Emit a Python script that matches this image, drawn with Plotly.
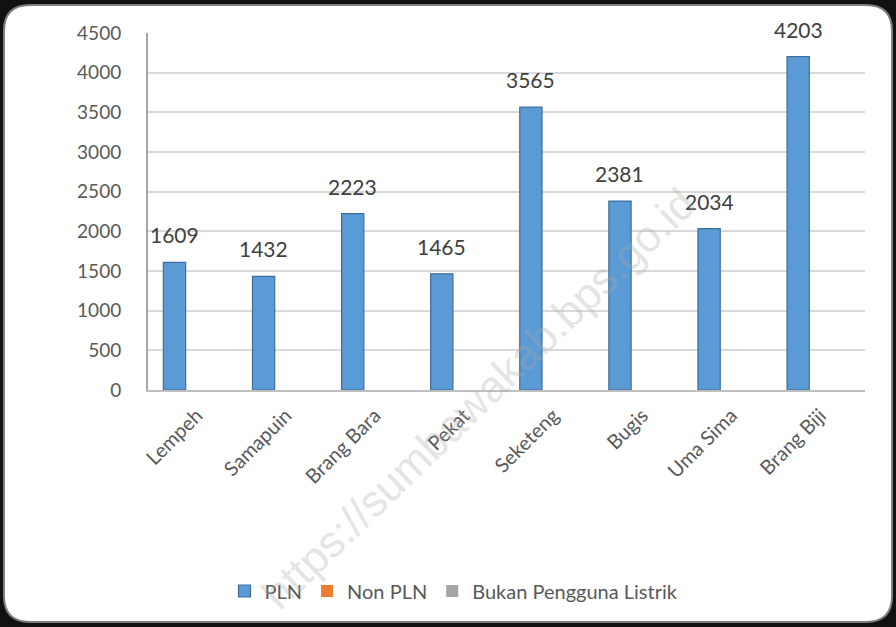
import plotly.graph_objects as go

categories = ["Lempeh", "Samapuin", "Brang Bara", "Pekat", "Seketeng", "Bugis", "Uma Sima", "Brang Biji"]
pln = [1609, 1432, 2223, 1465, 3565, 2381, 2034, 4203]
non_pln = [0, 0, 0, 0, 0, 0, 0, 0]
bukan = [0, 0, 0, 0, 0, 0, 0, 0]
y_ticks = [0, 500, 1000, 1500, 2000, 2500, 3000, 3500, 4000, 4500]

W, H = 896, 627
ML, MR, MT, MB = 148, 31, 33, 237
PW, PH = W - ML - MR, H - MT - MB

def px(x):
    return (x - ML) / PW

def py(y):
    return (H - MB - y) / PH

FONT = "Lato, 'Open Sans', sans-serif"
TXT = "#595959"

fig = go.Figure()
fig.add_trace(go.Bar(name="PLN", x=categories, y=pln,
                     marker=dict(color="#5B9BD5", line=dict(color="#3E6E9C", width=1.2))))
fig.add_trace(go.Bar(name="Non PLN", x=categories, y=non_pln,
                     marker=dict(color="#ED7D31", line=dict(width=0))))
fig.add_trace(go.Bar(name="Bukan Pengguna Listrik", x=categories, y=bukan,
                     marker=dict(color="#A5A5A5", line=dict(width=0))))

# data labels above PLN bars (PLN is first bar of each group of 3)
bargap = 0.25
bw = (1 - bargap) / 3
for i, v in enumerate(pln):
    fig.add_annotation(x=i - bw, y=v, xref="x", yref="y", text=str(v), showarrow=False,
                       yanchor="bottom", yshift=13,
                       font=dict(family=FONT, size=21, color="#404040"))

# rounded frame
x0, x1, y0, y1, r = 4, 892, 5, 622, 26
path = (f"M {px(x0+r)},{py(y0)} L {px(x1-r)},{py(y0)} Q {px(x1)},{py(y0)} {px(x1)},{py(y0+r)} "
        f"L {px(x1)},{py(y1-r)} Q {px(x1)},{py(y1)} {px(x1-r)},{py(y1)} "
        f"L {px(x0+r)},{py(y1)} Q {px(x0)},{py(y1)} {px(x0)},{py(y1-r)} "
        f"L {px(x0)},{py(y0+r)} Q {px(x0)},{py(y0)} {px(x0+r)},{py(y0)} Z")
fig.add_shape(type="path", path=path, xref="paper", yref="paper", layer="below",
              fillcolor="white", line=dict(color="#7f7f7f", width=2))

# watermark
fig.add_annotation(x=px(478), y=py(398), xref="paper", yref="paper",
                   xanchor="center", yanchor="middle",
                   text="https://sumbawakab.bps.go.id", showarrow=False, textangle=-44,
                   font=dict(family="'Liberation Sans', Arial, sans-serif", size=44,
                             color="rgba(170,170,170,0.33)"))

fig.update_layout(
    width=W, height=H,
    margin=dict(l=ML, r=MR, t=MT, b=MB),
    paper_bgcolor="#111111",
    plot_bgcolor="rgba(0,0,0,0)",
    barmode="group", bargap=bargap, bargroupgap=0,
    font=dict(family=FONT, color=TXT),
    showlegend=True,
    legend=dict(orientation="h", x=px(454), xanchor="center", y=py(591), yanchor="middle",
                font=dict(size=20, color=TXT), bgcolor="rgba(0,0,0,0)",
                itemwidth=30, tracegroupgap=0),
)
fig.update_yaxes(range=[0, 4500], tickvals=y_ticks, showgrid=True, gridcolor="#D9D9D9", gridwidth=2,
                 showline=True, linecolor="#A6A6A6", linewidth=2, zeroline=False,
                 ticks="outside", ticklen=21, tickcolor="rgba(0,0,0,0)",
                 tickfont=dict(size=19, color=TXT))
fig.update_xaxes(showline=True, linecolor="#BFBFBF", linewidth=2, tickangle=-45,
                 ticks="outside", ticklen=4, tickcolor="rgba(0,0,0,0)",
                 tickfont=dict(size=20, color=TXT))

fig.write_html("out.html", config={"displayModeBar": False},
               post_script="document.body.style.margin='0';document.body.style.overflow='hidden';")
